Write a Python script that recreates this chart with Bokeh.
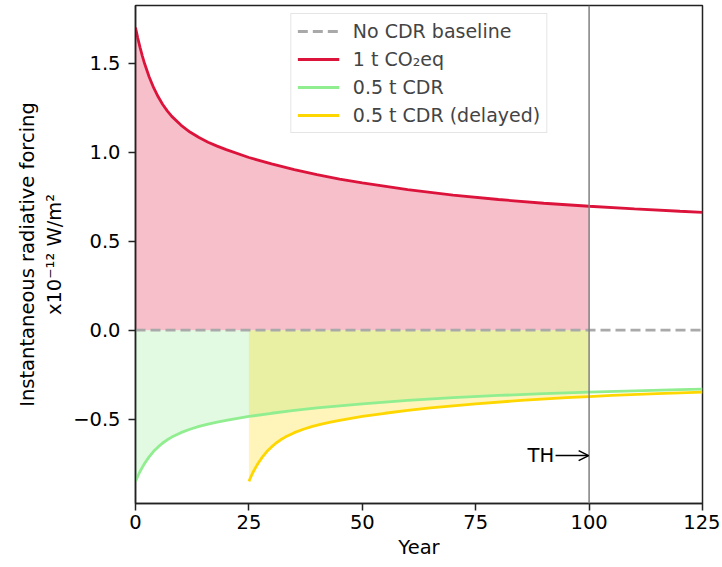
import numpy as np
from bokeh.plotting import figure
from bokeh.models import (Range1d, Span, Label, Arrow, OpenHead, Legend, LegendItem,
                          CustomJSTickFormatter, FixedTicker)
from bokeh.embed import file_html
from bokeh.resources import INLINE

# ---- data ----
years = [0, 0.5, 1, 1.5, 2, 3, 4, 5, 6, 7, 8, 10, 12, 14, 16, 18, 20, 25, 30, 35, 40,
         45, 50, 60, 70, 80, 90, 100, 110, 120, 125]
forcing_co2 = [1.700, 1.641, 1.589, 1.541, 1.498, 1.424, 1.362, 1.311, 1.268, 1.232, 1.201,
               1.152, 1.113, 1.082, 1.056, 1.034, 1.014, 0.970, 0.934, 0.902, 0.874,
               0.849, 0.827, 0.789, 0.759, 0.734, 0.713, 0.696, 0.681, 0.668, 0.662]
forcing_cdr = [-0.850, -0.821, -0.794, -0.771, -0.749, -0.712, -0.681, -0.656, -0.634, -0.616,
               -0.601, -0.576, -0.557, -0.541, -0.528, -0.517, -0.507, -0.485, -0.467, -0.451,
               -0.437, -0.425, -0.414, -0.395, -0.379, -0.367, -0.357, -0.348, -0.341, -0.334,
               -0.331]
years_delayed = [25, 25.5, 26, 26.5, 27, 28, 29, 30, 31, 32, 33, 35, 37, 39, 41, 43, 45, 50,
                 55, 60, 65, 70, 75, 85, 95, 100, 105, 115, 125]
forcing_cdr_delayed = [-0.850, -0.821, -0.794, -0.771, -0.749, -0.712, -0.681, -0.656, -0.634,
                       -0.616, -0.601, -0.576, -0.557, -0.541, -0.528, -0.517, -0.507, -0.485,
                       -0.467, -0.451, -0.437, -0.425, -0.414, -0.395, -0.379, -0.373, -0.367,
                       -0.357, -0.348]
time_horizon = 100
x_ticks = [0, 25, 50, 75, 100, 125]
y_ticks = [-0.5, 0.0, 0.5, 1.0, 1.5]

FONT = "DejaVu Sans"
FS = "19.5px"

yr = np.array(years)
yd = np.array(years_delayed)
co2 = np.array(forcing_co2)
cdr = np.array(forcing_cdr)
cdrd = np.array(forcing_cdr_delayed)
m = yr <= time_horizon
md = yd <= time_horizon

p = figure(width=720, height=567, x_range=Range1d(0, 125), y_range=Range1d(-0.974, 1.824),
           output_backend="svg", toolbar_location=None,
           min_border_left=135, min_border_right=18, min_border_top=5, min_border_bottom=64)
p.grid.visible = False
p.outline_line_color = "#222222"
p.outline_line_width = 1.5
p.background_fill_color = "white"
p.border_fill_color = "white"

# fills
p.varea(x=yr[m], y1=0, y2=co2[m], fill_color="crimson", fill_alpha=0.27)
p.varea(x=yr[m], y1=0, y2=cdr[m], fill_color="lightgreen", fill_alpha=0.27)
p.varea(x=yd[md], y1=0, y2=cdrd[md], fill_color="gold", fill_alpha=0.27)

# lines
base = p.line(x=[0, 125], y=[0, 0], line_color="darkgray", line_width=2.8, line_dash="10 5")
r1 = p.line(x=yr, y=co2, line_color="crimson", line_width=2.8)
r2 = p.line(x=yr, y=cdr, line_color="lightgreen", line_width=2.8)
r3 = p.line(x=yd, y=cdrd, line_color="gold", line_width=2.8)

p.add_layout(Span(location=time_horizon, dimension="height", line_color="gray", line_width=1.5))

p.add_layout(Arrow(end=OpenHead(size=10, line_width=1.5, line_color="black"),
                   x_start=92.6, y_start=-0.705, x_end=99.9, y_end=-0.705,
                   line_width=1.5, line_color="black"))
p.add_layout(Label(x=92.3, y=-0.705, text="TH", text_align="right", text_baseline="middle",
                   text_font=FONT, text_font_size=FS, text_color="black"))

legend = Legend(items=[LegendItem(label="No CDR baseline", renderers=[base]),
                       LegendItem(label="1 t CO\u2082eq", renderers=[r1]),
                       LegendItem(label="0.5 t CDR", renderers=[r2]),
                       LegendItem(label="0.5 t CDR (delayed)", renderers=[r3])],
                location="top_center")
legend.label_text_font = FONT
legend.label_text_font_size = "19px"
legend.glyph_width = 42
legend.glyph_height = 20
legend.label_height = 20
legend.label_standoff = 14
legend.spacing = 6
legend.padding = 6
legend.margin = 8
legend.border_line_color = "#cccccc"
legend.border_line_width = 1.5
legend.background_fill_alpha = 0.8
p.add_layout(legend)

for ax in (p.xaxis[0], p.yaxis[0]):
    ax.axis_line_width = 1.5
    ax.axis_line_color = "#222222"
    ax.major_tick_line_width = 1.5
    ax.major_tick_line_color = "#222222"
    ax.major_tick_out = 7
    ax.major_tick_in = 0
    ax.minor_tick_out = 0
    ax.minor_tick_in = 0
    ax.major_label_text_font = FONT
    ax.major_label_text_font_size = FS
    ax.major_label_text_color = "black"
    ax.axis_label_text_font = FONT
    ax.axis_label_text_font_size = FS
    ax.axis_label_text_font_style = "normal"
    ax.axis_label_text_color = "black"

p.xaxis.major_label_standoff = 4
p.yaxis.major_label_standoff = 8
p.xaxis.ticker = FixedTicker(ticks=x_ticks)
p.yaxis.ticker = FixedTicker(ticks=y_ticks)
p.yaxis.formatter = CustomJSTickFormatter(
    code="return (tick < 0 ? '\\u2212' : '') + Math.abs(tick).toFixed(1);")
p.xaxis.axis_label = "Year"
p.xaxis.axis_label_standoff = 4
p.yaxis.axis_label = "Instantaneous radiative forcing\nx10\u207b\u00b9\u00b2 W/m\u00b2"
p.yaxis.axis_label_standoff = 4

open("out.html", "w").write(file_html(p, INLINE))
